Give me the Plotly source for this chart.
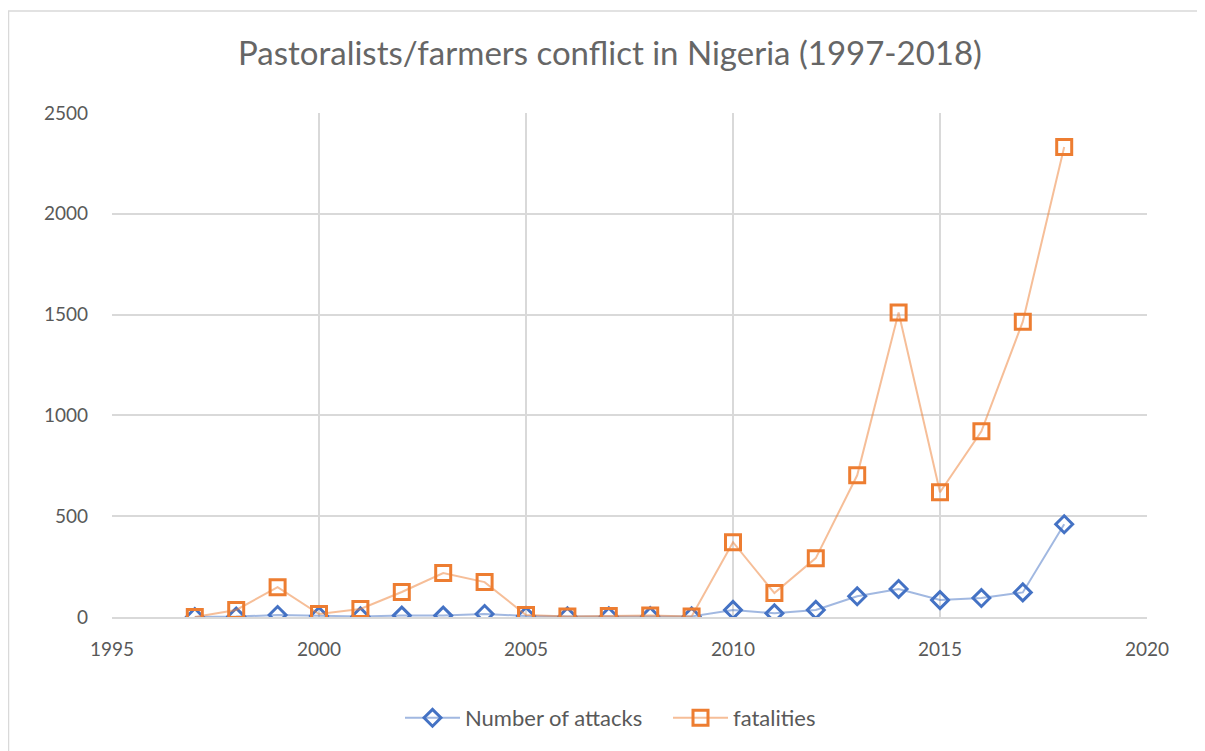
import plotly.graph_objects as go

years = list(range(1997, 2019))
attacks = [0, 2, 10, 5, 3, 7, 7, 15, 5, 3, 3, 4, 3, 35, 18, 35, 103, 139, 84, 94, 122, 460]
fatalities = [0, 35, 148, 15, 40, 124, 218, 173, 10, 3, 5, 8, 3, 371, 119, 292, 703, 1510, 619, 921, 1465, 2331]

x_ticks = [1995, 2000, 2005, 2010, 2015, 2020]
y_ticks = [0, 500, 1000, 1500, 2000, 2500]

FONT = "Lato"
TXT = "#595959"

# page has an 8px body offset; margins compensate so the plot sits at 112..1147 x 113..617
L, R, T, B = 104, 66, 105, 142
PW = 1205 - L - R
PH = 751 - T - B

fig = go.Figure()
fig.add_trace(go.Scatter(
    x=years, y=attacks, name="Number of attacks", mode="lines+markers",
    line=dict(color="rgba(68,114,196,0.5)", width=2),
    marker=dict(symbol="diamond-open", size=13, color="#4472C4", line=dict(width=3, color="#4472C4")),
))
fig.add_trace(go.Scatter(
    x=years, y=fatalities, name="fatalities", mode="lines+markers",
    line=dict(color="rgba(237,125,49,0.5)", width=2),
    marker=dict(symbol="square-open", size=15, color="#ED7D31", line=dict(width=3, color="#ED7D31")),
))

fig.update_layout(
    width=1205, height=751,
    margin=dict(l=L, r=R, t=T, b=B),
    paper_bgcolor="white", plot_bgcolor="white",
    font=dict(family=FONT, size=19, color=TXT),
    title=dict(text="Pastoralists/farmers conflict in Nigeria (1997-2018)",
               x=(610 - 8) / 1205, xanchor="center", y=1 - 45 / 751, yanchor="middle",
               font=dict(family=FONT, size=33, color="#666666")),
    showlegend=True,
    legend=dict(orientation="h", x=(400 - 112) / PW, xanchor="left",
                y=(617 - 718) / PH, yanchor="middle", font=dict(size=22, color=TXT),
                entrywidth=198, itemwidth=55),
    shapes=[dict(type="rect", xref="paper", yref="paper",
                 x0=(0.5 - L) / PW, x1=(1260 - L) / PW,
                 y0=-1.0, y1=(T - 3) / PH + 1,
                 line=dict(color="#d9d9d9", width=1.5), fillcolor="rgba(0,0,0,0)", layer="below")],
)
fig.update_xaxes(range=[1995, 2020], tickvals=x_ticks, ticktext=[str(v) for v in x_ticks],
                 showgrid=True, gridcolor="#d9d9d9", gridwidth=1.5,
                 showline=True, linecolor="#d9d9d9", linewidth=1.5, mirror=False,
                 zeroline=False, ticks="", ticklabelstandoff=14)
fig.update_yaxes(range=[0, 2500], tickvals=y_ticks, ticktext=[str(v) for v in y_ticks],
                 showgrid=True, gridcolor="#d9d9d9", gridwidth=1.5,
                 zeroline=False, showline=False, ticks="", ticklabelstandoff=23)

fig.write_html("out.html")
